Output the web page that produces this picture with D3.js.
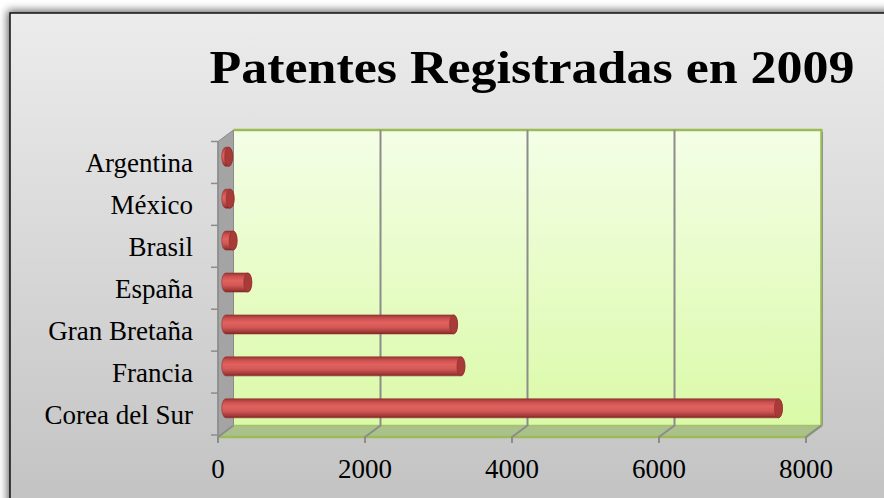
<!DOCTYPE html>
<html>
<head>
<meta charset="utf-8">
<script src="https://cdn.jsdelivr.net/npm/d3@7"></script>
<style>
  body { margin: 0; background: #fff; }
  svg { display: block; }
</style>
</head>
<body>
<svg id="chart" width="884" height="498"></svg>
<script>
// data, bottom to top as in the sheet
var countries = ['Corea del Sur', 'Francia', 'Gran Bretaña', 'España', 'Brasil', 'México', 'Argentina'];
var patents = [7520, 3200, 3100, 300, 100, 60, 40];
var xTicks = [0, 2000, 4000, 6000, 8000];
var titleText = 'Patentes Registradas en 2009';

var svg = d3.select('#chart');
var defs = svg.append('defs');

// depth of the 3d box
var dx = 15.5, dy = -11.5;
var front = { left: 218, right: 806, top: 141.5, bottom: 437 };

var x = d3.scaleLinear().domain([0, 8000]).range([front.left, front.right]);
var y = d3.scaleBand().domain(countries).range([front.bottom - 2, front.top]);

// gradients
var bg = defs.append('linearGradient').attr('id', 'bg').attr('x1', 0).attr('y1', 0).attr('x2', 0).attr('y2', 1);
bg.append('stop').attr('offset', '0%').attr('stop-color', '#ececec');
bg.append('stop').attr('offset', '100%').attr('stop-color', '#c2c2c2');

var wall = defs.append('linearGradient').attr('id', 'wall').attr('x1', 0).attr('y1', 0).attr('x2', 0).attr('y2', 1);
wall.append('stop').attr('offset', '0%').attr('stop-color', '#f4fee6');
wall.append('stop').attr('offset', '100%').attr('stop-color', '#dafaa8');

var cyl = defs.append('linearGradient').attr('id', 'cyl').attr('x1', 0).attr('y1', 0).attr('x2', 0).attr('y2', 1);
cyl.append('stop').attr('offset', '0%').attr('stop-color', '#9c3634');
cyl.append('stop').attr('offset', '18%').attr('stop-color', '#c9504e');
cyl.append('stop').attr('offset', '40%').attr('stop-color', '#e2625f');
cyl.append('stop').attr('offset', '65%').attr('stop-color', '#d25856');
cyl.append('stop').attr('offset', '88%').attr('stop-color', '#a53c3a');
cyl.append('stop').attr('offset', '100%').attr('stop-color', '#7e2624');

var shadow = defs.append('filter').attr('id', 'shadow').attr('x', '-10%').attr('y', '-10%').attr('width', '120%').attr('height', '120%');
shadow.append('feGaussianBlur').attr('in', 'SourceAlpha').attr('stdDeviation', 4).attr('result', 'b');
shadow.append('feOffset').attr('in', 'b').attr('dx', -2).attr('dy', -2).attr('result', 'o');
shadow.append('feComponentTransfer').attr('in', 'o').attr('result', 's')
    .append('feFuncA').attr('type', 'linear').attr('slope', 0.6);
var fm = shadow.append('feMerge');
fm.append('feMergeNode').attr('in', 's');
fm.append('feMergeNode').attr('in', 'SourceGraphic');

// frame
svg.append('rect')
    .attr('x', 10).attr('y', 13)
    .attr('width', 900).attr('height', 500)
    .attr('fill', 'url(#bg)')
    .attr('stroke', '#111')
    .attr('stroke-width', 1.5)
    .attr('filter', 'url(#shadow)');

// title
svg.append('text')
    .attr('x', 532).attr('y', 83)
    .attr('text-anchor', 'middle')
    .attr('font-family', 'Liberation Serif, serif')
    .attr('font-weight', 'bold')
    .attr('font-size', 46)
    .attr('textLength', 645)
    .attr('lengthAdjust', 'spacingAndGlyphs')
    .attr('fill', '#000')
    .text(titleText);

var g = svg.append('g');

// back wall
g.append('rect')
    .attr('x', front.left + dx).attr('y', front.top + dy)
    .attr('width', front.right - front.left).attr('height', front.bottom - front.top)
    .attr('fill', 'url(#wall)');

// side wall
g.append('path')
    .attr('d', 'M' + front.left + ',' + front.top + 'L' + (front.left + dx) + ',' + (front.top + dy) +
        'L' + (front.left + dx) + ',' + (front.bottom + dy) + 'L' + front.left + ',' + front.bottom + 'Z')
    .attr('fill', '#a4a4a4')
    .attr('stroke', '#8a8a8a')
    .attr('stroke-width', 1);

// floor
g.append('path')
    .attr('d', 'M' + front.left + ',' + front.bottom + 'L' + (front.left + dx) + ',' + (front.bottom + dy) +
        'L' + (front.right + dx) + ',' + (front.bottom + dy) + 'L' + front.right + ',' + front.bottom + 'Z')
    .attr('fill', '#abc18a');

// green edges of wall and floor
g.append('path')
    .attr('d', 'M' + (front.left + dx) + ',' + (front.top + dy) + 'L' + (front.right + dx) + ',' + (front.top + dy) +
        'L' + (front.right + dx) + ',' + (front.bottom + dy) + 'L' + front.right + ',' + front.bottom +
        'L' + front.left + ',' + front.bottom)
    .attr('fill', 'none')
    .attr('stroke', '#9bbb59')
    .attr('stroke-width', 2.5)
    .attr('stroke-linejoin', 'round');
g.append('line')
    .attr('x1', front.left + dx).attr('x2', front.right + dx)
    .attr('y1', front.bottom + dy).attr('y2', front.bottom + dy)
    .attr('stroke', '#a3c26a').attr('stroke-width', 1.5);
g.append('line')
    .attr('x1', front.right + dx + 1).attr('x2', front.right + dx + 1)
    .attr('y1', front.top + dy + 2).attr('y2', front.bottom + dy)
    .attr('stroke', '#8e9a86').attr('stroke-width', 1);

// gridlines: back wall, floor diagonal, front tick
var grid = g.append('g');
xTicks.forEach(function(t, i) {
    var fx = x(t);
    var pts = [[fx, front.bottom + 6], [fx, front.bottom], [fx + dx, front.bottom + dy]];
    if (i > 0 && i < xTicks.length - 1) pts.push([fx + dx, front.top + dy]);
    grid.append('path')
        .attr('d', d3.line()(pts))
        .attr('fill', 'none')
        .attr('stroke', '#8c8c8c')
        .attr('stroke-width', 2);
});

// x tick labels
g.selectAll('.xlab')
    .data(xTicks)
    .enter().append('text')
    .attr('class', 'xlab')
    .attr('x', d => x(d))
    .attr('y', 478)
    .attr('text-anchor', 'middle')
    .attr('font-family', 'Liberation Serif, serif')
    .attr('font-size', 27)
    .attr('fill', '#000')
    .text(d => d);

// y axis line and ticks
g.append('line')
    .attr('x1', front.left).attr('x2', front.left)
    .attr('y1', front.top).attr('y2', front.bottom + 6)
    .attr('stroke', '#8c8c8c').attr('stroke-width', 1.5);
var bounds = countries.map(c => y(c)).concat([y(countries[0]) + y.bandwidth()]);
g.selectAll('.ytick')
    .data(bounds)
    .enter().append('line')
    .attr('x1', front.left - 7).attr('x2', front.left)
    .attr('y1', d => d).attr('y2', d => d)
    .attr('stroke', '#8c8c8c').attr('stroke-width', 1.5);

// category labels
g.selectAll('.ylab')
    .data(countries)
    .enter().append('text')
    .attr('class', 'ylab')
    .attr('x', 193)
    .attr('y', d => y(d) + y.bandwidth() / 2 + 9.5)
    .attr('text-anchor', 'end')
    .attr('font-family', 'Liberation Serif, serif')
    .attr('font-size', 27)
    .attr('fill', '#000')
    .text(d => d);

// cylinders at mid depth
var bh = 19, rx = 4;
var bars = g.selectAll('.bar')
    .data(countries.map((c, i) => ({ c: c, v: patents[i] })))
    .enter().append('g')
    .attr('class', 'bar')
    .attr('transform', d => 'translate(' + (dx / 2) + ',' + (y(d.c) + y.bandwidth() / 2 + dy / 2) + ')');

bars.append('path')
    .attr('d', function(d) {
        var x0 = x(0), x1 = x(d.v), r = bh / 2;
        return 'M' + x0 + ',' + (-r) + 'L' + x1 + ',' + (-r) +
            'A' + rx + ',' + r + ' 0 0 1 ' + x1 + ',' + r +
            'L' + x0 + ',' + r +
            'A' + rx + ',' + r + ' 0 0 1 ' + x0 + ',' + (-r) + 'Z';
    })
    .attr('fill', 'url(#cyl)')
    .attr('stroke', '#8e2f2d')
    .attr('stroke-width', 0.6);

bars.append('ellipse')
    .attr('cx', d => x(d.v))
    .attr('cy', 0)
    .attr('rx', rx)
    .attr('ry', bh / 2)
    .attr('fill', '#a83a38')
    .attr('stroke', '#8e2f2d')
    .attr('stroke-width', 0.6);
</script>
</body>
</html>
